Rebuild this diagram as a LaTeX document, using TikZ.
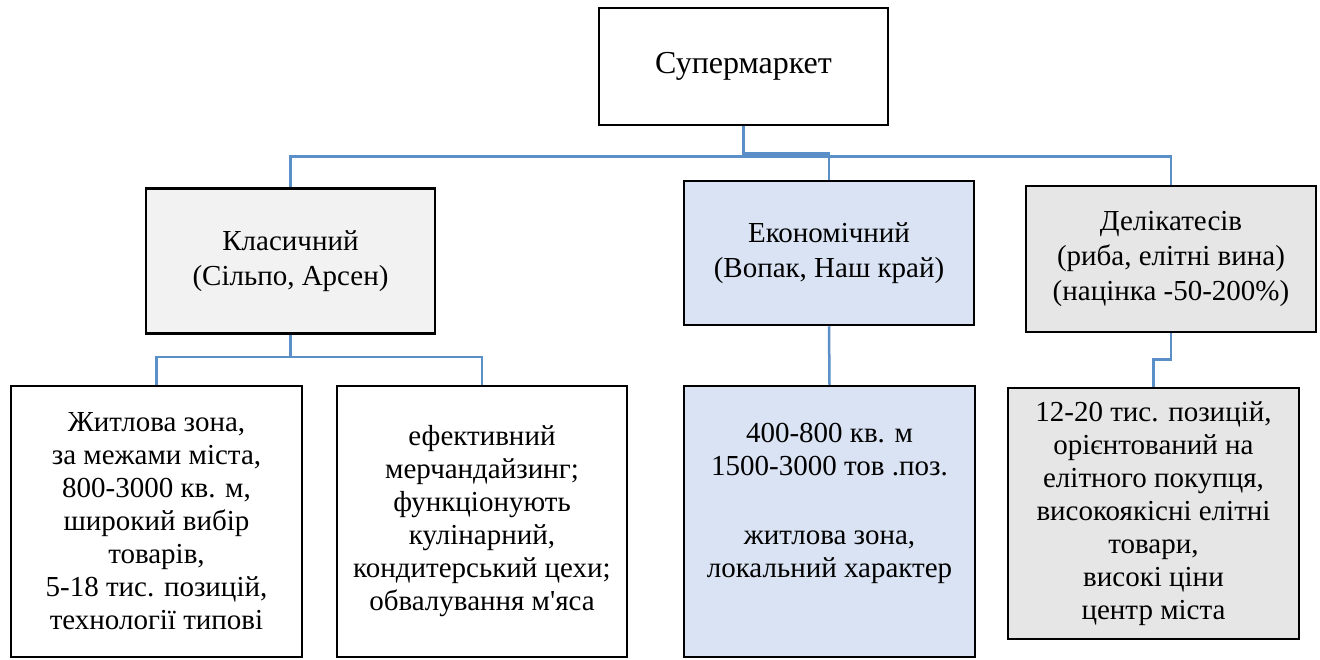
\documentclass[tikz,border=0pt]{standalone}
\usepackage{fontspec}
\setmainfont{Liberation Serif}
\usetikzlibrary{positioning}

\definecolor{linkblue}{HTML}{5B8FC7}
\definecolor{lightgray}{HTML}{F2F2F2}
\definecolor{midgray}{HTML}{E6E6E6}
\definecolor{paleblue}{HTML}{DAE3F3}

\begin{document}
\begin{tikzpicture}[
    x=1pt, y=-1pt,
    box/.style={draw=black, line width=2.5pt, rectangle, inner sep=0pt, align=center,
        font=\fontsize{29}{33}\selectfont},
    box_top/.style={box, font=\fontsize{32}{36}\selectfont},
    box_mid/.style={box, font=\fontsize{29}{35}\selectfont},
    box_gray/.style={box_mid, fill=lightgray},
    box_dark/.style={box, fill=midgray},
    box_blue/.style={box, fill=paleblue},
    link/.style={draw=linkblue, line width=2.5pt}
]
    \useasboundingbox (0,0) rectangle (1320,659);
    % Верхній рівень
    \node[box_top, minimum width=289, minimum height=117] (super) at (743.5,66.5) {Супермаркет};
    % Типи
    \node[box_gray, minimum width=289, minimum height=145] (klas) at (290.5,261)
        {Класичний\\(Сільпо, Арсен)};
    \node[box_blue, box_mid, minimum width=290, minimum height=144] (econ) at (829,253)
        {Економічний\\(Вопак, Наш край)};
    \node[box_dark, box_mid, minimum width=290, minimum height=146] (delik) at (1171,259)
        {Делікатесів\\(риба, елітні вина)\\(націнка -50-200\%)};
    % Ознаки
    \node[box, minimum width=291, minimum height=271] (klas1) at (156.5,521.5)
        {Житлова зона,\\за межами міста,\\800-3000 кв. м,\\широкий вибір\\товарів,\\5-18 тис. позицій,\\технології типові};
    \node[box, minimum width=290, minimum height=271] (klas2) at (482,521.5)
        {ефективний\\мерчандайзинг;\\функціонують\\кулінарний,\\кондитерський цехи;\\обвалування м\textquotesingle яса};
    \node[box_blue, minimum width=291, minimum height=271] (econ1) at (829.5,521.5)
        {400-800 кв. м\\1500-3000 тов .поз.\\[36pt]житлова зона,\\локальний характер\\ \strut};
    \node[box_dark, minimum width=291, minimum height=251] (delik1) at (1153.5,513.5)
        {12-20 тис. позицій,\\орієнтований на\\елітного покупця,\\високоякісні елітні\\товари,\\високі ціни\\центр міста};
    % Зв'язки
    \draw[link] (super.south) -- ++(0,30) -| (klas.north);
    \draw[link] (super.south) ++(0,30) -| (delik.north);
    \draw[link] (super.south) ++(0,27) -| (econ.north);
    \draw[link] (klas.south) -- ++(0,22) -| (klas1.north);
    \draw[link] (klas.south) ++(0,22) -| (klas2.north);
    \draw[link] (econ.south) -- (econ1.north);
    \draw[link] (delik.south) -- ++(0,26) -| (delik1.north);
\end{tikzpicture}
\end{document}
